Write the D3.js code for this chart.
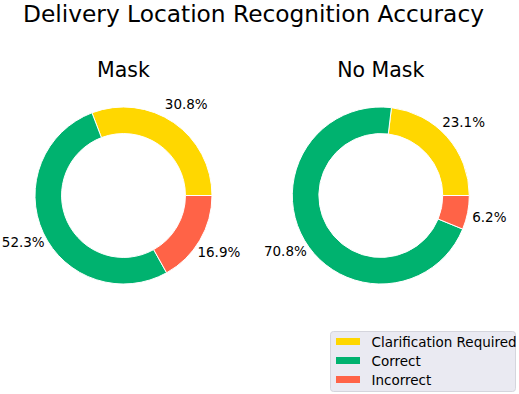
<!DOCTYPE html>
<html>
<head>
<meta charset="utf-8">
<script src="https://cdn.jsdelivr.net/npm/d3@7"></script>
<style>
  body { margin: 0; background: #fff; }
  svg { display: block; font-family: "DejaVu Sans", sans-serif; }
</style>
</head>
<body>
<svg id="chart" width="519" height="394"></svg>
<script>
const categories = ['Clarification Required', 'Correct', 'Incorrect'];
const colors = ['#FFD700', '#00B26F', '#FF6347'];
const panelTitles = ['Mask', 'No Mask'];
const maskValues = [30.8, 52.3, 16.9];
const noMaskValues = [23.1, 70.8, 6.2];

const width = 519;
const height = 394;
const radius = 88.5;
const ringWidth = 0.3;
const pctDistance = 1.25;

const svg = d3.select('#chart');

svg.append('text')
  .attr('x', 253.5)
  .attr('y', 22)
  .attr('text-anchor', 'middle')
  .attr('font-size', 23.3)
  .attr('fill', '#000')
  .text('Delivery Location Recognition Accuracy');

const panels = [
  { title: panelTitles[0], values: maskValues, cx: 123.5, cy: 195.5 },
  { title: panelTitles[1], values: noMaskValues, cx: 380.8, cy: 195.5 }
];

// matplotlib-style pie: start at 3 o'clock, go counterclockwise
const pie = d3.pie()
  .sort(null)
  .startAngle(Math.PI / 2)
  .endAngle(Math.PI / 2 - 2 * Math.PI);

const arc = d3.arc()
  .innerRadius(radius * (1 - ringWidth))
  .outerRadius(radius);

panels.forEach(p => {
  const g = svg.append('g')
    .attr('transform', `translate(${p.cx}, ${p.cy})`);

  g.append('text')
    .attr('x', 0)
    .attr('y', -118.5)
    .attr('text-anchor', 'middle')
    .attr('font-size', 20.5)
    .attr('fill', '#000')
    .text(p.title);

  const arcs = pie(p.values);

  g.selectAll('path')
    .data(arcs)
    .enter()
    .append('path')
    .attr('d', arc)
    .attr('fill', (d, i) => colors[i])
    .attr('stroke', '#fff')
    .attr('stroke-width', 1);

  g.selectAll('.pct')
    .data(arcs)
    .enter()
    .append('text')
    .attr('class', 'pct')
    .attr('x', d => Math.sin((d.startAngle + d.endAngle) / 2) * radius * pctDistance)
    .attr('y', d => -Math.cos((d.startAngle + d.endAngle) / 2) * radius * pctDistance)
    .attr('text-anchor', 'middle')
    .attr('dominant-baseline', 'central')
    .attr('font-size', 13.5)
    .attr('fill', '#000')
    .text(d => d.data.toFixed(1) + '%');
});

// legend
const legend = svg.append('g')
  .attr('transform', 'translate(330.5, 331.5)');

legend.append('rect')
  .attr('width', 185)
  .attr('height', 60)
  .attr('rx', 3)
  .attr('fill', '#EAEAF2')
  .attr('stroke', '#d5d5dd')
  .attr('stroke-width', 1);

const items = legend.selectAll('.item')
  .data(categories)
  .enter()
  .append('g')
  .attr('class', 'item')
  .attr('transform', (d, i) => `translate(0, ${10 + i * 19})`);

items.append('rect')
  .attr('x', 5.5)
  .attr('y', -3.5)
  .attr('width', 24)
  .attr('height', 7)
  .attr('fill', (d, i) => colors[i]);

items.append('text')
  .attr('x', 41)
  .attr('y', 0)
  .attr('dominant-baseline', 'central')
  .attr('font-size', 13.5)
  .attr('fill', '#000')
  .text(d => d);
</script>
</body>
</html>
